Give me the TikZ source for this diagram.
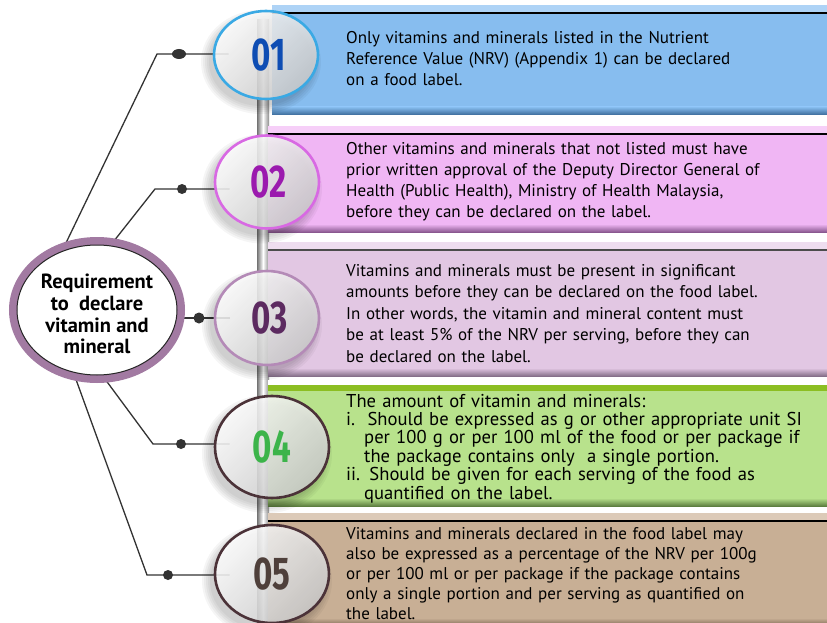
\documentclass[tikz,border=0pt]{standalone}
\usepackage{fontspec}
\setmainfont{PT Sans}
\newfontfamily\numfont[FakeStretch=0.72]{Fira Sans}
\usetikzlibrary{shapes.geometric,shadings}
\pgfdeclarelayer{back}
\pgfdeclarelayer{mid}
\pgfsetlayers{back,mid,main}

% panel colours
\definecolor{boxA}{HTML}{87BDEF}\definecolor{stripA}{HTML}{AED3F6}\definecolor{shadeA}{HTML}{3A6A99}
\definecolor{boxB}{HTML}{F0B6F4}\definecolor{stripB}{HTML}{F6CFF8}\definecolor{shadeB}{HTML}{8A5890}
\definecolor{boxC}{HTML}{E2C7E3}\definecolor{stripC}{HTML}{EEDDEF}\definecolor{shadeC}{HTML}{86708A}
\definecolor{boxD}{HTML}{B8E28C}\definecolor{ruleD}{HTML}{8CBE22}\definecolor{shadeD}{HTML}{5E7F40}
\definecolor{boxE}{HTML}{C8AF95}\definecolor{stripE}{HTML}{DCCAB8}\definecolor{shadeE}{HTML}{7C6652}
% badge outlines and numerals
\definecolor{ringA}{HTML}{3AA9E4}\definecolor{numA}{HTML}{0E4DB3}
\definecolor{ringB}{HTML}{D869E3}\definecolor{numB}{HTML}{9B1AAE}
\definecolor{ringC}{HTML}{B48AB7}\definecolor{numC}{HTML}{5C2A60}
\definecolor{ringD}{HTML}{4B3238}\definecolor{numD}{HTML}{3CB44A}
\definecolor{ringE}{HTML}{4B3238}\definecolor{numE}{HTML}{4F403B}
\definecolor{hubring}{HTML}{A27AA2}
\definecolor{wire}{HTML}{333333}

\pgfdeclareradialshading{hubshade}{\pgfpoint{0bp}{0bp}}{color(0bp)=(white); color(33bp)=(white); color(42bp)=(black!18); color(47bp)=(black!50); color(50bp)=(black!75)}

\begin{document}
\begin{tikzpicture}[x=1pt,y=-1pt,
  badge/.style={ellipse, inner sep=0pt, line width=2.6pt,
    top color=white, bottom color=black!20, shading angle=45,
    fill opacity=0.86, text opacity=1,
    font=\numfont\bfseries\fontsize{46}{46}\selectfont},
  bodytext/.style={anchor=base west, inner sep=0pt, align=left, text width=478pt},
  wireline/.style={draw=wire, line width=1.3pt},
  knob/.style={fill=wire}]
\useasboundingbox (0,0) rectangle (827,623);

\begin{pgfonlayer}{back}
\fill[white] (0,0) rectangle (827,623);
% vertical rail behind the badges
\shade[left color=black!55, right color=black!45, middle color=white] (257,20) rectangle (269,623);

% coloured panels: light strip, body, top rule, bottom shadow
\foreach \yt/\yb/\xl/\fc/\sc/\dc/\lc/\lw in {
    5/115/272/boxA/stripA/shadeA/black/2,
    126/232/268/boxB/stripB/shadeB/black/2,
    242/376/268/boxC/stripC/shadeC/black!70/1.6,
    380/506/268/boxD/white/shadeD/ruleD/5.5,
    513/626/268/boxE/stripE/shadeE/black/2}{
  \fill[\sc] (\xl,\yt) rectangle (827,\yb);
  \fill[\fc] (\xl,\yt+8) rectangle (827,\yb);
  \shade[top color=\fc, bottom color=\dc] (\xl,\yb-8) rectangle (827,\yb);
  \draw[\lc, line width=\lw pt] (\xl,\yt+8) -- (827,\yt+8);
}
\end{pgfonlayer}

% soft shadows under the badges
\foreach \cx/\cy/\w/\h in {266/55/104/88, 267/182/104/93, 267/318/104/94, 272/447/114/102, 272/574/114/98}{
  \foreach \k in {0,...,4}
    \fill[black, opacity=0.04] (\cx-5,\cy+7) ellipse [x radius=\w/2+\k*2, y radius=\h/2+\k*2];
}
% badges
\node[badge, draw=ringA, minimum width=104pt, minimum height=88pt] (e1) at (266,55) {\hspace*{6pt}\textcolor{numA}{01}};
\node[badge, draw=ringB, minimum width=104pt, minimum height=93pt] (e2) at (267,182) {\hspace*{4pt}\textcolor{numB}{02}};
\node[badge, draw=ringC, minimum width=104pt, minimum height=94pt] (e3) at (267,318) {\hspace*{6pt}\textcolor{numC}{03}};
\node[badge, draw=ringD, minimum width=114pt, minimum height=102pt] (e4) at (272,447) {\textcolor{numD}{04}};
\node[badge, draw=ringE, minimum width=114pt, minimum height=98pt] (e5) at (272,574) {\textcolor{numE}{05}};

% central hub
\node[ellipse, minimum width=168pt, minimum height=138pt, inner sep=0pt,
      draw=hubring, line width=8pt, shading=hubshade] (hub) at (97,310) {};
\draw[black!85, line width=1pt] (hub.center) ellipse [x radius=80pt, y radius=65pt];
\node[align=center, inner sep=0pt, font=\bfseries\fontsize{20.5}{21.8}\selectfont] (hubtext) at (97,314)
  {Requirement\\to\ \ declare\\vitamin and\\mineral};

% connectors from the hub to each badge
\coordinate (s1) at (65,245);  \coordinate (k1) at (157,54);  \coordinate (d1) at (179,54);
\coordinate (s2) at (110,246); \coordinate (k2) at (155,189); \coordinate (d2) at (182,189);
\coordinate (d3) at (199,318);
\coordinate (s4) at (102,375); \coordinate (k4) at (153,444); \coordinate (d4) at (181,444);
\coordinate (s5) at (74,374);  \coordinate (k5) at (147,575); \coordinate (d5) at (168,575);
\begin{pgfonlayer}{mid}
\draw[wireline] (s1) -- (k1) -- ([xshift=16pt]e1.west |- k1);
\draw[wireline] (s2) -- (k2) -- ([xshift=16pt]e2.west |- k2);
\draw[wireline] (hub.center |- e3.west) -- ([xshift=16pt]e3.west);
\draw[wireline] (s4) -- (k4) -- ([xshift=16pt]e4.west |- k4);
\draw[wireline] (s5) -- (k5) -- ([xshift=16pt]e5.west |- k5);
\fill[knob] (d1) ellipse [x radius=7pt, y radius=5pt];
\fill[knob] (d2) circle (5pt);
\fill[knob] (d3) circle (5.5pt);
\fill[knob] (d4) circle (5pt);
\fill[knob] (d5) circle (5pt);
\end{pgfonlayer}

% panel texts
\node[bodytext, font=\fontsize{17}{21}\selectfont] (t1) at (346,44)
  {Only vitamins and minerals listed in the Nutrient\\
   Reference Value (NRV) (Appendix 1) can be declared\\
   on a food label.};
\node[bodytext, font=\fontsize{17}{21.3}\selectfont] (t2) at (346,154)
  {Other vitamins and minerals that not listed must have\\
   prior written approval of the Deputy Director General of\\
   Health (Public Health), Ministry of Health Malaysia,\\
   before they can be declared on the label.};
\node[bodytext, font=\fontsize{17}{21.5}\selectfont] (t3) at (346,276)
  {Vitamins and minerals must be present in significant\\
   amounts before they can be declared on the food label.\\
   In other words, the vitamin and mineral content must\\
   be at least 5\% of the NRV per serving, before they can\\
   be declared on the label.};
\node[bodytext, font=\fontsize{18.6}{18.4}\selectfont] (t4) at (346,407)
  {The amount of vitamin and minerals:\\
   i.\ \ Should be expressed as g or other appropriate unit SI\\
   \hspace*{18pt}per 100 g or per 100 ml of the food or per package if\\
   \hspace*{18pt}the package contains only\ \ a single portion.\\
   ii. Should be given for each serving of the food as\\
   \hspace*{18pt}quantified on the label.};
\node[bodytext, font=\fontsize{17}{20.2}\selectfont] (t5) at (346,539)
  {Vitamins and minerals declared in the food label may\\
   also be expressed as a percentage of the NRV per 100g\\
   or per 100 ml or per package if the package contains\\
   only a single portion and per serving as quantified on\\
   the label.};
\end{tikzpicture}
\end{document}
